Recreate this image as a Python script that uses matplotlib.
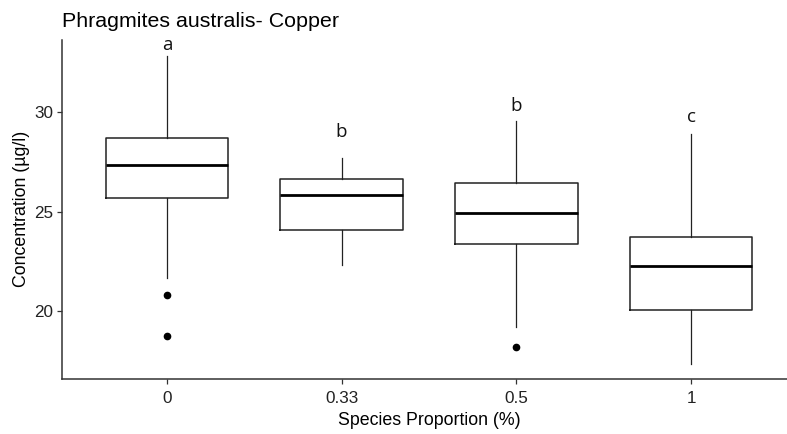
import matplotlib
matplotlib.use("Agg")
import matplotlib.pyplot as plt

categories = ["0", "0.33", "0.5", "1"]
whislo = [21.66, 22.33, 19.23, 17.35]
q1 = [25.68, 24.09, 23.40, 20.07]
med = [27.34, 25.84, 24.94, 22.28]
q3 = [28.69, 26.63, 26.43, 23.75]
whishi = [32.85, 27.70, 29.58, 28.91]
outliers = [[20.83, 18.77], [], [18.22], []]
letters = ["a", "b", "b", "c"]
letter_y = [33.38, 29.03, 30.32, 29.78]

plt.rcParams['font.family'] = ['Liberation Sans', 'DejaVu Sans']

fig = plt.figure(figsize=(7.87, 4.34), dpi=100)
W, H = 787, 434
ax = fig.add_axes([62 / W, (H - 378.7) / H, (796 - 62) / W, (378.7 - 40) / H])

stats = []
for i, c in enumerate(categories):
    stats.append(dict(label=c, whislo=whislo[i], q1=q1[i], med=med[i],
                      q3=q3[i], whishi=whishi[i], fliers=outliers[i]))

positions = list(range(1, len(categories) + 1))
ax.bxp(stats, positions=positions, widths=0.7, showcaps=False,
       boxprops=dict(color='#222222', linewidth=1.1),
       whiskerprops=dict(color='#222222', linewidth=0.9),
       medianprops=dict(color='black', linewidth=2.0),
       flierprops=dict(marker='o', markerfacecolor='black', markeredgecolor='black',
                       markersize=4.5, linestyle='none'))

for p, t, y in zip(positions, letters, letter_y):
    ax.text(p, y, t, ha='center', va='center', fontsize=13.5,
            family=['Open Sans', 'DejaVu Sans'], fontweight='medium', color='#111111')

ax.set_xlim(0.4, 4.6)
ax.set_ylim(16.61, 33.63)
ax.set_yticks([20, 25, 30])
ax.set_xticks(positions)
ax.set_xticklabels(categories)

for s in ['top', 'right']:
    ax.spines[s].set_visible(False)
for s in ['left', 'bottom']:
    ax.spines[s].set_color('#333333')
    ax.spines[s].set_linewidth(1.1)

ax.tick_params(axis='both', colors='#333333', length=3.5, width=0.9,
               labelsize=12.3, labelcolor='#222222', pad=3)
ax.tick_params(axis='x', pad=5)

ax.set_xlabel("Species Proportion (%)", fontsize=12.8, color='black', labelpad=5)
ax.set_ylabel("Concentration (µg/l)", fontsize=12.8, color='black', labelpad=3)

fig.text(62 / W, 1 - 27 / H, "Phragmites australis- Copper", fontsize=15.4,
         ha='left', va='baseline', color='black')

fig.savefig("out.png", dpi=100)
